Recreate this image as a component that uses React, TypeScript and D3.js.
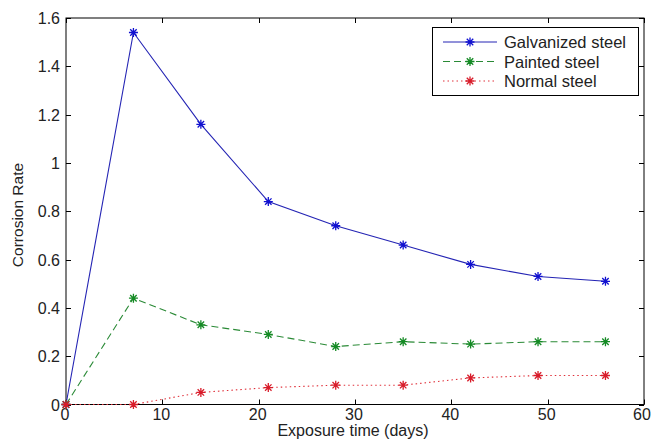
import { useRef, useEffect } from "react";
import * as d3 from "d3";

const days = [0, 7, 14, 21, 28, 35, 42, 49, 56];
const galvanized = [0, 1.54, 1.16, 0.84, 0.74, 0.66, 0.58, 0.53, 0.51];
const painted = [0, 0.44, 0.33, 0.29, 0.24, 0.26, 0.25, 0.26, 0.26];
const normal = [0, 0, 0.05, 0.07, 0.08, 0.08, 0.11, 0.12, 0.12];
const xTicks = [0, 10, 20, 30, 40, 50, 60];
const yTicks = [0, 0.2, 0.4, 0.6, 0.8, 1, 1.2, 1.4, 1.6];
const seriesNames = ["Galvanized steel", "Painted steel", "Normal steel"];

const App = () => {
  const svgRef = useRef<SVGSVGElement>(null);

  useEffect(() => {
    const w = 653;
    const h = 445;
    const left = 66, right = 644, top = 18, bottom = 404.5;
    const svg = d3.select(svgRef.current).attr("width", w).attr("height", h);
    svg.selectAll("*").remove();
    svg.append("rect").attr("width", w).attr("height", h).attr("fill", "#fff");

    const x = d3.scaleLinear().domain([0, 60]).range([left, right]);
    const y = d3.scaleLinear().domain([0, 1.6]).range([bottom, top]);
    const font = "'Liberation Sans', Arial, sans-serif";
    const fs = 16;

    // axes with inward ticks on all four sides (box on)
    const g = svg.append("g");
    g.append("rect")
      .attr("x", left).attr("y", top)
      .attr("width", right - left).attr("height", bottom - top)
      .attr("fill", "none").attr("stroke", "#000").attr("stroke-width", 1);

    xTicks.forEach((t) => {
      const px = Math.round(x(t)) + 0.5;
      g.append("line").attr("x1", px).attr("x2", px).attr("y1", bottom).attr("y2", bottom - 5).attr("stroke", "#000");
      g.append("line").attr("x1", px).attr("x2", px).attr("y1", top).attr("y2", top + 5).attr("stroke", "#000");
      g.append("text").attr("x", t === 60 ? x(t) - 2 : x(t) - 1).attr("y", bottom + 15.5)
        .attr("text-anchor", "middle").attr("font-family", font).attr("font-size", fs)
        .attr("fill", "#222").text(t);
    });
    yTicks.forEach((t) => {
      const py = Math.round(y(t)) + 0.5;
      g.append("line").attr("x1", left).attr("x2", left + 5).attr("y1", py).attr("y2", py).attr("stroke", "#000");
      g.append("line").attr("x1", right).attr("x2", right - 5).attr("y1", py).attr("y2", py).attr("stroke", "#000");
      g.append("text").attr("x", left - 6).attr("y", y(t) + 6)
        .attr("text-anchor", "end").attr("font-family", font).attr("font-size", fs)
        .attr("fill", "#222").text(t);
    });

    svg.append("text").attr("x", 353).attr("y", 436)
      .attr("text-anchor", "middle").attr("font-family", font).attr("font-size", fs)
      .attr("fill", "#222").text("Exposure time (days)");
    svg.append("text").attr("transform", `translate(23,215) rotate(-90)`)
      .attr("text-anchor", "middle").attr("font-family", font).attr("font-size", fs - 0.5)
      .attr("fill", "#222").text("Corrosion Rate");

    const series = [
      { name: seriesNames[0], values: galvanized, color: "#2424b4", mark: "#1010d0", dash: null },
      { name: seriesNames[1], values: painted, color: "#2a8a36", mark: "#148a24", dash: "7,4" },
      { name: seriesNames[2], values: normal, color: "#e0303a", mark: "#d81c2a", dash: "1.5,3" },
    ];

    const line = d3.line<number>().x((d, i) => x(days[i])).y((d) => y(d));

    const star = (sel: any, cx: number, cy: number, color: string) => {
      const r = 4.5;
      const d = r * 0.72;
      const p = `M${cx - r},${cy}L${cx + r},${cy}M${cx},${cy - r}L${cx},${cy + r}` +
        `M${cx - d},${cy - d}L${cx + d},${cy + d}M${cx - d},${cy + d}L${cx + d},${cy - d}`;
      sel.append("path").attr("d", p).attr("stroke", color).attr("stroke-width", 1.3).attr("fill", "none");
    };

    series.forEach((s) => {
      svg.append("path").attr("d", line(s.values))
        .attr("fill", "none").attr("stroke", s.color).attr("stroke-width", 1.1)
        .attr("stroke-dasharray", s.dash);
      s.values.forEach((v, i) => star(svg, x(days[i]), y(v), s.mark));
    });

    // legend
    const lg = svg.append("g");
    lg.append("rect").attr("x", 432.5).attr("y", 27.5).attr("width", 206).attr("height", 68)
      .attr("fill", "#fff").attr("stroke", "#000");
    series.forEach((s, i) => {
      const ly = 42 + i * 19.5;
      lg.append("line").attr("x1", 443).attr("x2", 497).attr("y1", ly).attr("y2", ly)
        .attr("stroke", s.color).attr("stroke-dasharray", s.dash);
      star(lg, 470, ly, s.mark);
      lg.append("text").attr("x", 504).attr("y", ly + 6)
        .attr("font-family", font).attr("font-size", fs + 0.5).attr("fill", "#222").text(s.name);
    });
  }, []);

  return (
    <svg ref={svgRef} style={{ position: "fixed", left: 0, top: 0, display: "block" }}></svg>
  );
};

export default App;
